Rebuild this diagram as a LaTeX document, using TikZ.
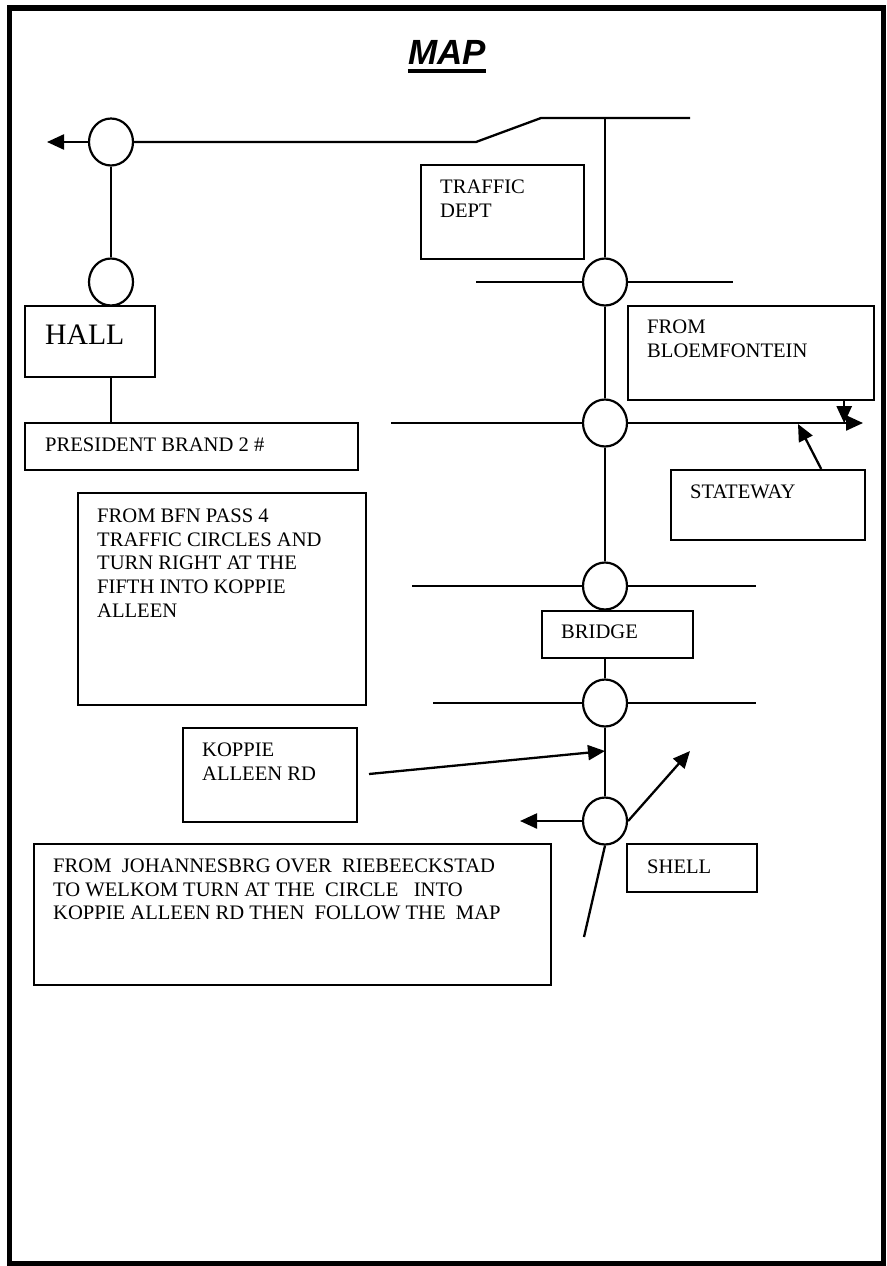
\documentclass[tikz,border=0pt]{standalone}
\usepackage{fontspec}
\setmainfont{Liberation Serif}
\newfontfamily\mapfont{Liberation Sans}
\usetikzlibrary{shapes.geometric,arrows.meta}

\begin{document}
\begin{tikzpicture}[x=1pt, y=-1pt,
	every node/.style={inner sep=0pt},
	circ/.style={ellipse, draw=black, line width=2.2pt, minimum width=44pt, minimum height=47pt},
	box/.style={rectangle, draw=black, line width=2.2pt, anchor=north west},
	txt/.style={anchor=north west, align=left, font=\fontsize{20.6}{23.8}\selectfont},
	road/.style={line width=2.3pt},
	arr/.style={road, -{Triangle[length=17pt, width=15pt]}}]

	\useasboundingbox (0,0) rectangle (886,1266);
	\draw[line width=5.5pt] (9.5,8) rectangle (883.5,1263.5);

	\node[font=\mapfont\bfseries\itshape\fontsize{35}{40}\selectfont] (title) at (447,52.5) {MAP};
	\draw[line width=4pt] ([yshift=-6pt]title.south west) -- ([yshift=-6pt]title.south east);

	% traffic circles
	\node[circ] (c1) at (111,142) {};
	\node[circ] (c2) at (111,282) {};
	\node[circ] (c3) at (605,282) {};
	\node[circ] (c4) at (605,423) {};
	\node[circ] (c5) at (605,586) {};
	\node[circ] (c6) at (605,703) {};
	\node[circ] (c7) at (605,821) {};

	% boxes
	\node[box, minimum width=163pt, minimum height=94pt] (traffic) at (420,164) {};
	\node[txt] (traffictxt) at (440,179.5) {TRAFFIC\\DEPT};
	\node[box, minimum width=130pt, minimum height=71pt] (hall) at (24,305) {};
	\node[txt, font=\fontsize{29.7}{34}\selectfont] (halltxt) at (45,324.5) {HALL};
	\node[box, minimum width=333pt, minimum height=47pt] (pres) at (24,422) {};
	\node[txt] (prestxt) at (45,437.5) {PRESIDENT BRAND 2 \#};
	\node[box, minimum width=288pt, minimum height=212pt] (bfn) at (77,492) {};
	\node[txt] (bfntxt) at (97,508.5) {FROM BFN PASS 4\\TRAFFIC CIRCLES AND\\TURN RIGHT AT THE\\FIFTH INTO KOPPIE\\ALLEEN};
	\node[box, minimum width=246pt, minimum height=94pt] (bloem) at (627,305) {};
	\node[txt] (bloemtxt) at (647,319.5) {FROM\\BLOEMFONTEIN};
	\node[box, minimum width=194pt, minimum height=70pt] (state) at (670,469) {};
	\node[txt] (statetxt) at (690,484.5) {STATEWAY};
	\node[box, minimum width=151pt, minimum height=47pt] (bridge) at (541,610) {};
	\node[txt] (bridgetxt) at (561,624.5) {BRIDGE};
	\node[box, minimum width=174pt, minimum height=94pt] (koppie) at (182,727) {};
	\node[txt] (koppietxt) at (202,742.5) {KOPPIE\\ALLEEN RD};
	\node[box, minimum width=130pt, minimum height=48pt] (shell) at (626,843) {};
	\node[txt] (shelltxt) at (647,859.5) {SHELL};
	\node[box, minimum width=517pt, minimum height=141pt] (jhb) at (33,843) {};
	\node[txt] (jhbtxt) at (53,858.5) {FROM\ \ JOHANNESBRG OVER\ \ RIEBEECKSTAD\\TO WELKOM TURN AT THE\ \ CIRCLE\ \ \ INTO\\KOPPIE ALLEEN RD THEN\ \ FOLLOW THE\ \ MAP};

	% road ends
	\coordinate (west1) at (47,142);
	\coordinate (top) at (605,118);
	\coordinate (west3) at (476,282);
	\coordinate (east3) at (733,282);
	\coordinate (west4) at (391,423);
	\coordinate (east4) at (863,423);
	\coordinate (west5) at (412,586);
	\coordinate (east5) at (756,586);
	\coordinate (west6) at (433,703);
	\coordinate (east6) at (756,703);
	\coordinate (west7) at (520,821);
	\coordinate (ne7) at (690,751);
	\coordinate (south7) at (584,937);
	\coordinate (kstart) at (369,774);
	\coordinate (kend) at (605,751);

	% roads
	\draw[road] (c1.east) -- (476,142) -- (541,118) -- (690,118);
	\draw[arr] (c1.west) -- (west1);
	\draw[road, line width=1.8pt] (c1.south) -- (c2.north);
	\draw[road, line width=1.8pt] (hall.south -| c2.south) -- (pres.north -| c2.south);
	\draw[road, line width=1.8pt] (top) -- (c3.north);
	\draw[road] (west3) -- (c3.west);
	\draw[road] (c3.east) -- (east3);
	\draw[road, line width=1.8pt] (c3.south) -- (c4.north);
	\draw[road] (west4) -- (c4.west);
	\draw[arr] (c4.east) -- (east4);
	\draw[road, line width=1.8pt] (c4.south) -- (c5.north);
	\draw[road] (west5) -- (c5.west);
	\draw[road] (c5.east) -- (east5);
	\draw[road, line width=1.8pt] (bridge.south -| c6.north) -- (c6.north);
	\draw[road] (west6) -- (c6.west);
	\draw[road] (c6.east) -- (east6);
	\draw[road, line width=1.8pt] (c6.south) -- (c7.north);
	\draw[arr] (c7.west) -- (west7);
	\draw[arr] (c7.east) -- (ne7);
	\draw[road] (c7.south) -- (south7);
	\draw[arr] (kstart) -- (kend);

	% pointers
	\draw[arr] ([xshift=-31pt]bloem.south east) -- ++(0,22);
	\draw[arr] ([xshift=-45pt]state.north east) -- (798,424);

\end{tikzpicture}
\end{document}
